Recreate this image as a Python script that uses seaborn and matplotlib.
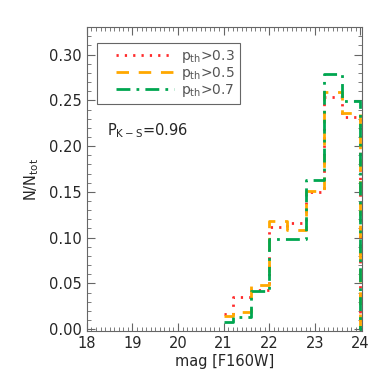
import numpy as np
import pandas as pd
import matplotlib
matplotlib.use("Agg")
import matplotlib.pyplot as plt
import seaborn as sns
from matplotlib.ticker import MultipleLocator
from matplotlib.lines import Line2D
from matplotlib.legend_handler import HandlerLine2D

# bin centres (0.4 mag bins), last one is empty so the line drops at 24
mag_centres = [21.0, 21.4, 21.8, 22.2, 22.6, 23.0, 23.4, 23.8, 24.2]

frac_p03 = [0.017, 0.035, 0.043, 0.112, 0.116, 0.150, 0.2535, 0.2316, 0.0]
frac_p05 = [0.0146, 0.019, 0.048, 0.118, 0.108, 0.151, 0.2596, 0.236, 0.0]
frac_p07 = [0.0073, 0.0134, 0.042, 0.099, 0.099, 0.1625, 0.279, 0.249, 0.0]

labels = [r"p$_{\rm th}$>0.3", r"p$_{\rm th}$>0.5", r"p$_{\rm th}$>0.7"]
colors = ["#ff2a2a", "#ffa800", "#00a650"]
dashes = [(0.8, 2.2), (4.5, 3.5), (5, 2.2, 1, 2.2)]

sns.set_style("ticks")
plt.rcParams["font.family"] = ["DejaVu Sans"]

fig = plt.figure(figsize=(3.88, 3.88), dpi=100)
ax = fig.add_axes([0.224, 0.147, 0.709, 0.783])

for vals, lab, col, ds in zip([frac_p03, frac_p05, frac_p07], labels, colors, dashes):
    df = pd.DataFrame({"mag": mag_centres, "frac": vals})
    sns.lineplot(data=df, x="mag", y="frac", ax=ax, color=col, lw=2,
                 drawstyle="steps-mid", dashes=False, label=lab,
                 sort=False)
    ax.lines[-1].set_dashes(ds)

ax.set_xlim(18, 24.04)
ax.set_ylim(-0.002, 0.33)
ax.xaxis.set_major_locator(MultipleLocator(1))
ax.xaxis.set_minor_locator(MultipleLocator(0.1))
ax.yaxis.set_major_locator(MultipleLocator(0.05))
ax.yaxis.set_minor_locator(MultipleLocator(0.01))
ax.yaxis.set_major_formatter(matplotlib.ticker.FormatStrFormatter("%.2f"))
ax.tick_params(which="both", direction="in", top=True, right=True,
               color="#666666", labelsize=10.5)
ax.tick_params(which="major", length=6, width=0.8)
ax.tick_params(which="minor", length=3, width=0.6)
for s in ax.spines.values():
    s.set_color("#666666")
    s.set_linewidth(0.8)

ax.set_xlabel("mag [F160W]", fontsize=10.5, labelpad=2)
ax.set_ylabel(r"N/N$_{\rm tot}$", fontsize=10.5, labelpad=6)

ax.text(18.45, 0.212, r"P$_{\rm K-S}$=0.96", fontsize=10.5)

leg = ax.legend(loc="upper left", bbox_to_anchor=(0.036, 0.947), fontsize=10,
                handlelength=5.2, handletextpad=0.5, borderpad=0.35,
                labelspacing=0.0, borderaxespad=0, fancybox=False,
                framealpha=1, edgecolor="#666666", labelcolor="#555555",
                handler_map={Line2D: HandlerLine2D(xpad=1.0)})
leg.get_frame().set_linewidth(0.8)

fig.savefig("out.png", dpi=100)
